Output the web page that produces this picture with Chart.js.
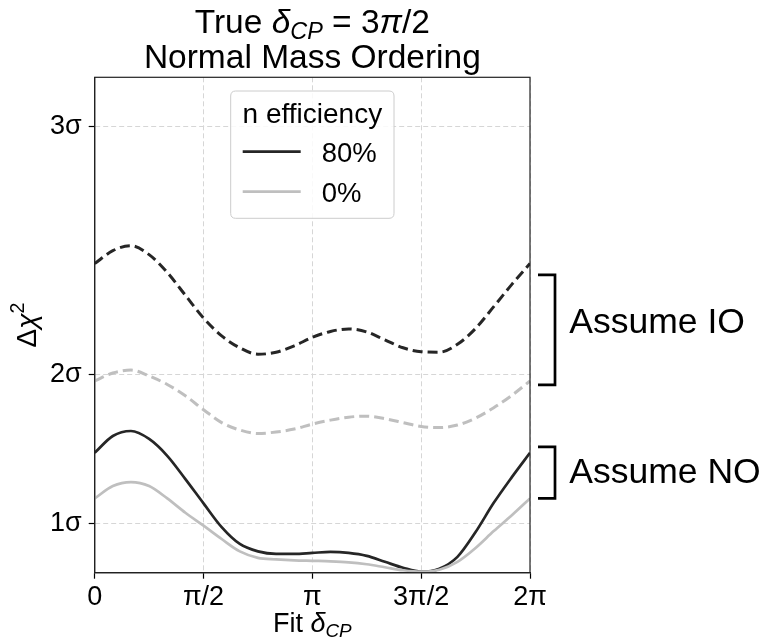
<!DOCTYPE html>
<html><head><meta charset="utf-8">
<script src="https://cdn.jsdelivr.net/npm/chart.js@4.4.0/dist/chart.umd.min.js"></script>
<style>html,body{margin:0;padding:0;background:#fff;}#wrap{width:765px;height:644px;}</style>
</head><body><div id="wrap"><canvas id="c" width="765" height="644"></canvas></div>
<script>
// Fit delta_CP in degrees
const fitDeltaDeg = [0,15,30,45,60,75,90,105,120,135,150,165,180,195,210,225,240,255,270,285,300,315,330,345,360];
// Delta chi^2 values
const assumeIO_80 = [6.24,6.50,6.60,6.42,6.06,5.60,5.14,4.78,4.54,4.41,4.45,4.58,4.75,4.87,4.92,4.86,4.70,4.54,4.46,4.45,4.61,4.93,5.37,5.82,6.24];
const assumeIO_0  = [3.87,4.03,4.09,3.97,3.80,3.57,3.29,3.03,2.88,2.81,2.84,2.90,3.00,3.08,3.14,3.16,3.11,3.03,2.95,2.93,2.98,3.12,3.33,3.58,3.87];
const assumeNO_80 = [2.42,2.76,2.86,2.70,2.36,1.89,1.40,0.92,0.58,0.43,0.38,0.38,0.40,0.42,0.40,0.34,0.22,0.10,0.02,0.08,0.32,0.82,1.41,1.93,2.42];
const assumeNO_0  = [1.50,1.75,1.83,1.75,1.50,1.21,0.95,0.68,0.43,0.30,0.27,0.25,0.24,0.23,0.21,0.17,0.11,0.05,0.02,0.06,0.22,0.50,0.84,1.16,1.50];
const xTickValues = [0,90,180,270,360];
const xTickLabels = ['0','π/2','π','3π/2','2π'];
const yTickValues = [1,4,9];
const yTickLabels = ['1σ','2σ','3σ'];
const legendTitle = 'n efficiency';
const legendLabels = ['80%','0%'];
const bracketIO = [3.79, 6.01];
const bracketNO = [1.50, 2.54];
const bracketLabels = ['Assume IO','Assume NO'];

const FAM = '"Liberation Sans", Arial, Helvetica, sans-serif';
const DARK = '#262626', LIGHT = '#bfbfbf';

function pts(arr){ return fitDeltaDeg.map((x,i)=>({x:x,y:arr[i]})); }

function drawRich(ctx, segs, x, y, align, size){
  const parts = segs.map(s=>{
    const fs = (s.sub||s.sup) ? size*0.7 : size;
    const font = (s.it?'italic ':'') + fs + 'px ' + FAM;
    ctx.font = font;
    return {t:s.t, font:font, w:ctx.measureText(s.t).width, dy: s.sub ? size*0.2 : (s.sup ? -size*0.42 : 0)};
  });
  const total = parts.reduce((a,p)=>a+p.w,0);
  let cx = align==='center' ? x-total/2 : x;
  ctx.textAlign='left'; ctx.textBaseline='alphabetic';
  parts.forEach(p=>{ ctx.font=p.font; ctx.fillText(p.t,cx,y+p.dy); cx+=p.w; });
}

const deco = {
  id:'deco',
  afterDatasetsDraw(chart){
    const ctx = chart.ctx, ca = chart.chartArea, ys = chart.scales.y;
    ctx.save();
    ctx.strokeStyle = '#222'; ctx.lineWidth = 1.2; ctx.setLineDash([]);
    ctx.strokeRect(ca.left, ca.top, ca.right-ca.left, ca.bottom-ca.top);
    ctx.fillStyle = '#000';
    const cx = (ca.left+ca.right)/2;
    drawRich(ctx,[{t:'True '},{t:'δ',it:true},{t:'CP',it:true,sub:true},{t:' = 3'},{t:'π',it:true},{t:'/2'}], cx, 32.5, 'center', 33.5);
    drawRich(ctx,[{t:'Normal Mass Ordering'}], cx, 67.5, 'center', 33.5);
    drawRich(ctx,[{t:'Fit '},{t:'δ',it:true},{t:'CP',it:true,sub:true}], cx, 631.5, 'center', 27);
    ctx.save(); ctx.translate(36,(ca.top+ca.bottom)/2); ctx.rotate(-Math.PI/2);
    drawRich(ctx,[{t:'Δ'},{t:'χ',it:true},{t:'2',sup:true}],0,0,'center',28);
    ctx.restore();
    const lx=230.7, ly=91, lw=163.3, lh=127.3, r=5;
    ctx.beginPath();
    ctx.moveTo(lx+r,ly); ctx.lineTo(lx+lw-r,ly); ctx.quadraticCurveTo(lx+lw,ly,lx+lw,ly+r);
    ctx.lineTo(lx+lw,ly+lh-r); ctx.quadraticCurveTo(lx+lw,ly+lh,lx+lw-r,ly+lh);
    ctx.lineTo(lx+r,ly+lh); ctx.quadraticCurveTo(lx,ly+lh,lx,ly+lh-r);
    ctx.lineTo(lx,ly+r); ctx.quadraticCurveTo(lx,ly,lx+r,ly); ctx.closePath();
    ctx.fillStyle='rgba(255,255,255,0.85)'; ctx.fill();
    ctx.strokeStyle='#cccccc'; ctx.lineWidth=1; ctx.stroke();
    ctx.fillStyle='#000';
    drawRich(ctx,[{t:legendTitle}], lx+lw/2, 123.3, 'center', 28);
    const cols=[DARK,LIGHT], ly0=[151.7,191.7];
    for(let i=0;i<2;i++){
      ctx.strokeStyle=cols[i]; ctx.lineWidth=2.7; ctx.beginPath();
      ctx.moveTo(242.7,ly0[i]); ctx.lineTo(300.7,ly0[i]); ctx.stroke();
      ctx.fillStyle='#000';
      drawRich(ctx,[{t:legendLabels[i]}],321.7,ly0[i]+10,'left',27.5);
    }
    const bx0 = ca.right+8, bx1 = ca.right+25;
    ctx.strokeStyle='#000'; ctx.lineWidth=2.7; ctx.lineCap='butt'; ctx.lineJoin='miter';
    [bracketIO,bracketNO].forEach(b=>{
      const y0=ys.getPixelForValue(b[1]), y1=ys.getPixelForValue(b[0]);
      ctx.beginPath(); ctx.moveTo(bx0,y0); ctx.lineTo(bx1,y0); ctx.lineTo(bx1,y1); ctx.lineTo(bx0,y1); ctx.stroke();
    });
    ctx.fillStyle='#000';
    drawRich(ctx,[{t:bracketLabels[0]}],569.3,333.3,'left',35.5);
    drawRich(ctx,[{t:bracketLabels[1]}],569.3,483.3,'left',35.5);
    ctx.restore();
  }
};

new Chart(document.getElementById('c').getContext('2d'),{
  type:'line',
  data:{datasets:[
    {label:'80% Assume IO',data:pts(assumeIO_80),borderColor:DARK,borderDash:[10,5],borderWidth:3,pointRadius:0,cubicInterpolationMode:'monotone',fill:false},
    {label:'0% Assume IO',data:pts(assumeIO_0),borderColor:LIGHT,borderDash:[10,5],borderWidth:3,pointRadius:0,cubicInterpolationMode:'monotone',fill:false},
    {label:'0% Assume NO',data:pts(assumeNO_0),borderColor:LIGHT,borderWidth:2.7,pointRadius:0,cubicInterpolationMode:'monotone',fill:false},
    {label:'80% Assume NO',data:pts(assumeNO_80),borderColor:DARK,borderWidth:2.7,pointRadius:0,cubicInterpolationMode:'monotone',fill:false}
  ]},
  options:{
    responsive:false, animation:false, devicePixelRatio:1,
    layout:{padding:{top:77.3,right:235,left:0,bottom:0}},
    plugins:{legend:{display:false},title:{display:false},tooltip:{enabled:false}},
    scales:{
      x:{type:'linear',min:0,max:360,
        afterBuildTicks:s=>{s.ticks=xTickValues.map(v=>({value:v}));},
        afterFit:s=>{s.height=71.3;},
        ticks:{callback:(v)=>xTickLabels[xTickValues.indexOf(v)],font:{size:27,family:FAM},color:'#000',padding:3,maxRotation:0,autoSkip:false},
        grid:{color:'#d6d6d6',lineWidth:1,tickColor:'#000',tickLength:6,tickWidth:1.2,tickBorderDash:[]},
        border:{display:true,color:'#222',width:1.2,dash:[5,3]}
      },
      y:{type:'linear',min:0,max:10,
        afterBuildTicks:s=>{s.ticks=yTickValues.map(v=>({value:v}));},
        afterFit:s=>{s.width=94.7;},
        ticks:{callback:(v)=>yTickLabels[yTickValues.indexOf(v)],font:{size:27,family:FAM},color:'#000',padding:7,autoSkip:false},
        grid:{color:'#d6d6d6',lineWidth:1,tickColor:'#000',tickLength:6,tickWidth:1.2,tickBorderDash:[]},
        border:{display:true,color:'#222',width:1.2,dash:[5,3]}
      }
    }
  },
  plugins:[deco]
});
</script></body></html>
